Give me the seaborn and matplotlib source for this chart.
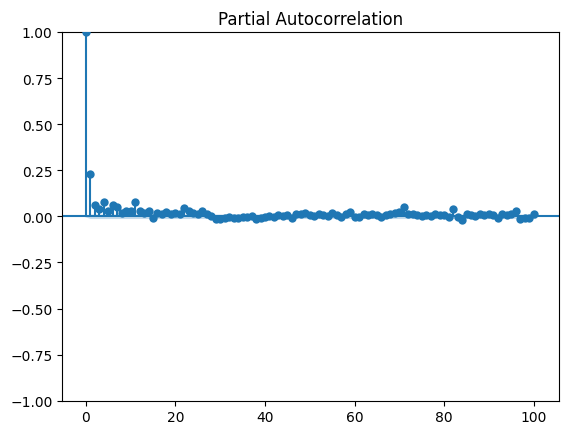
import numpy as np
import pandas as pd
import matplotlib
matplotlib.use("Agg")
import matplotlib.pyplot as plt
import seaborn as sns

lags = list(range(0, 101))
pacf_values = [
    1.0, 0.23, 0.06, 0.04, 0.08, 0.03, 0.06, 0.05, 0.02, 0.03, 0.03, 0.075, 0.03, 0.02, 0.03,
    -0.01, 0.02, 0.015, 0.025, 0.01, 0.02, 0.01, 0.045, 0.03, 0.02, 0.015, 0.03, 0.01, 0.0, -0.015,
    -0.015, -0.01, -0.005, -0.01, -0.01, -0.005, -0.005, 0.0, -0.015, -0.01, -0.005, 0.0, -0.005, 0.005, 0.0,
    0.005, -0.01, 0.01, 0.015, 0.02, 0.005, 0.0, 0.015, 0.005, 0.0, 0.02, 0.005, -0.005, 0.01, 0.025,
    -0.005, -0.005, 0.015, 0.005, 0.01, 0.005, -0.005, 0.005, 0.01, 0.02, 0.025, 0.05, 0.015, 0.01, 0.005,
    0.0, 0.005, 0.0, 0.01, 0.005, 0.005, -0.005, 0.04, -0.005, -0.02, 0.01, 0.005, 0.0, 0.015, 0.005,
    0.01, 0.005, -0.01, 0.01, 0.005, 0.01, 0.03, -0.015, -0.01, -0.01, 0.01,
]
conf_half = 0.012
title = "Partial Autocorrelation"

df = pd.DataFrame({"lag": lags, "pacf": pacf_values})

fig = plt.figure(figsize=(5.68, 4.35), dpi=100)
ax = fig.add_axes([0.1097, 0.0766, 0.8745, 0.8476])

color = "#1f77b4"
ax.vlines(df["lag"], 0, df["pacf"], colors=color, linewidth=1.5)
sns.scatterplot(data=df, x="lag", y="pacf", ax=ax, color=color, s=36,
                linewidth=0, zorder=3, legend=False)
ax.axhline(0, color=color, linewidth=1.5)

band_x = np.array(lags, dtype=float)
band_x[0] -= 0.5
band_x[-1] += 0.5
band = np.full(len(lags), conf_half)
band[0] = 0.0
ax.fill_between(band_x, -band, band, color=color, alpha=0.25, linewidth=0)

ax.set_ylim(-1, 1)
ax.set_xlim(-5.25, 105.65)
ax.set_xlabel("")
ax.set_ylabel("")
ax.set_title(title, fontsize=12)

fig.savefig("out.png", dpi=100)
